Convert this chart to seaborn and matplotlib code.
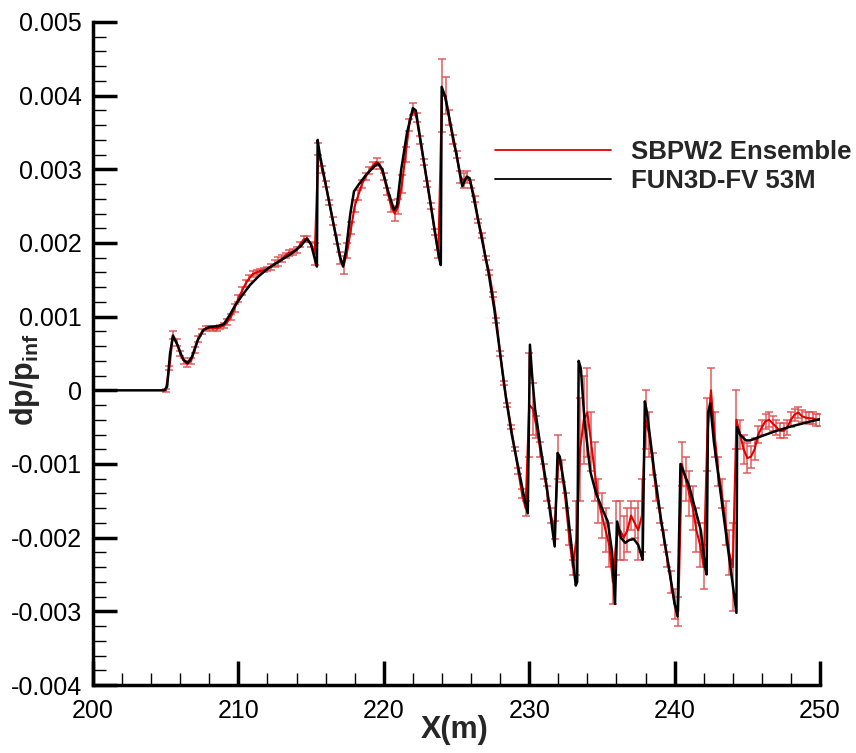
import numpy as np
import pandas as pd
import matplotlib
matplotlib.use("Agg")
import matplotlib.pyplot as plt
import seaborn as sns
from matplotlib.ticker import MultipleLocator, FuncFormatter

# ---------------- data ----------------
# FUN3D-FV 53M (black)
fun3d_x = [200.0, 204.9, 205.1, 205.3, 205.5, 205.8, 206.2, 206.5, 206.8, 207.2,
           207.6, 208.0, 208.6, 209.0, 209.4, 209.8, 210.3, 210.8, 211.4, 212.0,
           212.8, 213.6, 214.3, 214.7, 215.0, 215.3, 215.4, 215.45, 215.6, 216.0,
           216.5, 217.0, 217.2, 217.4, 217.7, 217.95, 218.3, 218.8, 219.3, 219.6,
           219.9, 220.3, 220.7, 220.9, 221.2, 221.6, 222.0, 222.2, 222.6, 223.0,
           223.4, 223.8, 223.92, 223.98, 224.2, 224.6, 225.0, 225.4, 225.7, 225.9,
           226.2, 226.7, 227.2, 227.6, 228.0, 228.4, 228.8, 229.2, 229.6, 229.9,
           230.05, 230.2, 230.4, 230.8, 231.2, 231.6, 231.75, 231.95, 232.1, 232.5,
           232.9, 233.2, 233.3, 233.4, 233.55, 233.8, 234.2, 234.6, 235.0, 235.4,
           235.7, 235.9, 236.05, 236.3, 236.6, 236.9, 237.2, 237.5, 237.8, 237.95,
           238.1, 238.6, 239.1, 239.6, 240.0, 240.2, 240.4, 240.6, 241.0, 241.4,
           241.8, 242.1, 242.2, 242.3, 242.45, 242.7, 243.1, 243.5, 243.9, 244.25,
           244.3, 244.5, 244.9, 245.2, 246.0, 247.0, 248.0, 249.0, 250.0]
fun3d_y = [0.0, 0.0, 0.00005, 0.0005, 0.00074, 0.00062, 0.00042, 0.00037, 0.00045, 0.00068,
           0.00082, 0.00086, 0.00087, 0.0009, 0.00102, 0.00116, 0.0013, 0.00143, 0.00155, 0.00165,
           0.00175, 0.00185, 0.00196, 0.00206, 0.00198, 0.00175, 0.00168, 0.0034, 0.0032, 0.0028,
           0.0023, 0.0018, 0.00168, 0.0019, 0.0024, 0.0027, 0.0028, 0.00293, 0.00303, 0.00308,
           0.0030, 0.0027, 0.00245, 0.0025, 0.0030, 0.0035, 0.00383, 0.0038, 0.0033, 0.0028,
           0.0023, 0.0018, 0.0017, 0.00412, 0.0040, 0.0036, 0.0032, 0.00277, 0.0029, 0.00288,
           0.0026, 0.0021, 0.0016, 0.0011, 0.0005, -0.0001, -0.0006, -0.0010, -0.0014, -0.00167,
           0.00062, 0.0002, -0.00025, -0.0008, -0.0013, -0.0019, -0.00212, -0.00085, -0.0009, -0.0014,
           -0.0021, -0.00265, -0.0026, 0.0004, 0.0003, -0.0004, -0.0011, -0.0014, -0.0016, -0.00178,
           -0.0022, -0.0029, -0.00178, -0.0020, -0.00207, -0.00203, -0.00202, -0.0021, -0.0023, -0.00015,
           -0.0003, -0.0011, -0.0018, -0.0024, -0.0029, -0.00307, -0.0010, -0.0011, -0.0013, -0.0016,
           -0.0019, -0.0024, -0.0025, -0.0003, -0.00018, -0.0007, -0.0013, -0.0019, -0.0025, -0.00302,
           -0.0005, -0.0006, -0.00068, -0.00068, -0.00062, -0.00055, -0.00049, -0.00044, -0.00039]

# SBPW2 Ensemble (red): sampled every 0.25 m from 205 to 250
ens_x = np.arange(205.0, 250.001, 0.25)
ens_mean = [
    0.0, 0.0003, 0.00075, 0.00065,            # 205
    0.0005, 0.0004, 0.00036, 0.0004,          # 206
    0.00055, 0.0007, 0.0008, 0.00084,         # 207
    0.00085, 0.00084, 0.00084, 0.00086,       # 208
    0.00088, 0.00093, 0.0010, 0.00112,        # 209
    0.00125, 0.00135, 0.00145, 0.00152,       # 210
    0.00158, 0.0016, 0.00162, 0.00163,        # 211
    0.00165, 0.00168, 0.00172, 0.00175,       # 212
    0.00179, 0.00183, 0.00187, 0.00188,       # 213
    0.0019, 0.00198, 0.00205, 0.00206,        # 214
    0.00198, 0.00185, 0.00328, 0.0030,        # 215
    0.0028, 0.00255, 0.0023, 0.00205,         # 216
    0.0018, 0.0017, 0.0019, 0.0022,           # 217
    0.0025, 0.00265, 0.0028, 0.0029,          # 218
    0.00298, 0.00305, 0.0031, 0.00305,        # 219
    0.0029, 0.0027, 0.0025, 0.0024,           # 220
    0.0025, 0.0028, 0.0032, 0.0036,           # 221
    0.00382, 0.0037, 0.0034, 0.0031,          # 222
    0.0028, 0.0025, 0.00215, 0.00185,         # 223
    0.0040, 0.0040, 0.0037, 0.0034,           # 224
    0.0032, 0.0029, 0.00285, 0.0029,          # 225
    0.0028, 0.0026, 0.0023, 0.0021,           # 226
    0.0018, 0.0016, 0.0013, 0.00095,          # 227
    0.0005, 0.0001, -0.0002, -0.0005,         # 228
    -0.0008, -0.0011, -0.0014, -0.0016,       # 229
    -0.0002, -0.00025, -0.0005, -0.0008,      # 230
    -0.0011, -0.0014, -0.0017, -0.0019,       # 231
    -0.0009, -0.0011, -0.0015, -0.0020,       # 232
    -0.0024, -0.0020, -0.0008, -0.0004,       # 233
    -0.0003, -0.0007, -0.0011, -0.0015,       # 234
    -0.0017, -0.0019, -0.0021, -0.0026,       # 235
    -0.0020, -0.0019, -0.0020, -0.0019,       # 236
    -0.0017, -0.0018, -0.0019, -0.0017,       # 237
    -0.0004, -0.0006, -0.0010, -0.0014,       # 238
    -0.0017, -0.0020, -0.0023, -0.0026,       # 239
    -0.0029, -0.0030, -0.0010, -0.0012,       # 240
    -0.0014, -0.0016, -0.0019, -0.0021,       # 241
    -0.0024, -0.0006, 0.0, -0.0006,           # 242
    -0.0011, -0.0014, -0.0018, -0.0022,       # 243
    -0.0024, -0.0004, -0.0006, -0.0008,       # 244
    -0.00092, -0.0009, -0.0008, -0.0006,      # 245
    -0.0005, -0.00042, -0.0004, -0.00045,     # 246
    -0.0005, -0.00055, -0.00055, -0.0005,     # 247
    -0.0004, -0.00033, -0.0003, -0.00035,     # 248
    -0.00037, -0.00038, -0.00038, -0.0004,    # 249
    -0.0004,                                  # 250
]
ens_err = [
    0.00002, 0.00003, 0.00006, 0.00005,
    0.00004, 0.00004, 0.00004, 0.00004,
    0.00004, 0.00004, 0.00003, 0.00003,
    0.00003, 0.00003, 0.00003, 0.00003,
    0.00003, 0.00004, 0.00004, 0.00005,
    0.00005, 0.00005, 0.00005, 0.00004,
    0.00004, 0.00004, 0.00003, 0.00003,
    0.00003, 0.00004, 0.00005, 0.00006,
    0.00005, 0.00004, 0.00004, 0.00004,
    0.00004, 0.00004, 0.00004, 0.00004,
    0.00004, 0.00015, 0.00008, 0.00005,
    0.00004, 0.00004, 0.00005, 0.00006,
    0.00008, 0.00012, 0.0001, 0.00008,
    0.00008, 0.00007, 0.00006, 0.00005,
    0.00005, 0.00005, 0.00006, 0.00005,
    0.00005, 0.00005, 0.00008, 0.0001,
    0.0001, 0.00012, 0.0001, 0.00008,
    0.00008, 0.00006, 0.00005, 0.00004,
    0.00004, 0.00004, 0.00004, 0.00005,
    0.0005, 0.00025, 0.0001, 0.00006,
    0.00005, 0.00008, 0.0001, 0.00008,
    0.00005, 0.00004, 0.00003, 0.00003,
    0.00003, 0.00003, 0.00003, 0.00003,
    0.00003, 0.00003, 0.00003, 0.00003,
    0.00003, 0.00004, 0.00006, 0.0001,
    0.0007, 0.00035, 0.00015, 0.0001,
    0.0001, 0.0001, 0.0001, 0.00012,
    0.0003, 0.00015, 0.0001, 0.0001,
    0.0001, 0.0005, 0.0007, 0.0006,
    0.0006, 0.0004, 0.0004, 0.0003,
    0.0003, 0.0003, 0.0003, 0.0003,
    0.0005, 0.0004, 0.0003, 0.0003,
    0.0002, 0.0002, 0.0004, 0.0005,
    0.0004, 0.0003, 0.00015, 0.0001,
    0.0001, 0.0001, 0.0001, 0.00015,
    0.0002, 0.0002, 0.0003, 0.0003,
    0.0003, 0.0003, 0.0003, 0.0003,
    0.0003, 0.0005, 0.0003, 0.0003,
    0.0002, 0.0002, 0.0003, 0.0003,
    0.0006, 0.0004, 0.0002, 0.0002,
    0.0002, 0.00015, 0.00015, 0.00012,
    0.0001, 0.0001, 0.0001, 0.0001,
    0.0001, 0.0001, 0.0001, 0.0001,
    0.0001, 0.00008, 0.00008, 0.00008,
    0.00008, 0.00008, 0.00008, 0.00008,
    0.00008,
]

labels = ["SBPW2 Ensemble", "FUN3D-FV 53M"]

# ---------------- style ----------------
sns.set_theme(style="white")
plt.rcParams["font.family"] = ["Liberation Sans", "DejaVu Sans"]
plt.rcParams["axes.unicode_minus"] = False
plt.rcParams["mathtext.fontset"] = "custom"
plt.rcParams["mathtext.rm"] = "Liberation Sans"
plt.rcParams["mathtext.bf"] = "Liberation Sans:bold"

fig = plt.figure(figsize=(8.56, 7.53), dpi=100)
ax = fig.add_axes([0.1086, 0.0903, 0.8494, 0.8805])

ens_df = pd.DataFrame({"x": ens_x, "y": ens_mean})
fun_df = pd.DataFrame({"x": fun3d_x, "y": fun3d_y})

ax.errorbar(ens_x, ens_mean, yerr=ens_err, fmt="none",
            ecolor=(0.88, 0.30, 0.30), elinewidth=1.1, capsize=3, capthick=1.1,
            alpha=0.9, zorder=2)
sns.lineplot(data=ens_df, x="x", y="y", ax=ax, color="#e00000", lw=1.5,
             sort=False, estimator=None, label=labels[0], zorder=3)
sns.lineplot(data=fun_df, x="x", y="y", ax=ax, color="black", lw=1.8,
             sort=False, estimator=None, label=labels[1], zorder=4)

ax.set_xlim(200, 250)
ax.set_ylim(-0.004, 0.005)

for s in ["top", "right"]:
    ax.spines[s].set_visible(False)
for s in ["left", "bottom"]:
    ax.spines[s].set_linewidth(2.5)
    ax.spines[s].set_color("black")

ax.xaxis.set_major_locator(MultipleLocator(10))
ax.xaxis.set_minor_locator(MultipleLocator(2))
ax.yaxis.set_major_locator(MultipleLocator(0.001))
ax.yaxis.set_minor_locator(MultipleLocator(0.0002))
ax.yaxis.set_major_formatter(FuncFormatter(lambda v, p: f"{round(v, 6):g}"))
ax.tick_params(which="major", direction="in", length=17, width=2.5,
               labelsize=18, pad=8, colors="black")
ax.tick_params(axis="x", which="major", pad=10)
ax.tick_params(which="minor", direction="in", length=9, width=1.0, colors="black")
ax.tick_params(axis="x", which="both", bottom=True, top=False)
ax.tick_params(axis="y", which="both", left=True, right=False)

ax.set_xlabel("X(m)", fontsize=22, fontweight="bold")
ax.xaxis.set_label_coords(0.498, -0.045)
ax.set_ylabel(r"dp/p$_{\mathbf{inf}}$", fontsize=22, fontweight="bold")
ax.yaxis.set_label_coords(-0.070, 0.46)

leg = ax.legend(loc="upper left", bbox_to_anchor=(0.553, 0.822), frameon=False,
                prop={"size": 18.5, "weight": "bold"}, handlelength=4.5,
                handletextpad=0.8, labelspacing=0.2, borderpad=0,
                borderaxespad=0)
for line in leg.get_lines():
    line.set_linewidth(1.3)

fig.savefig("out.png", dpi=100)
